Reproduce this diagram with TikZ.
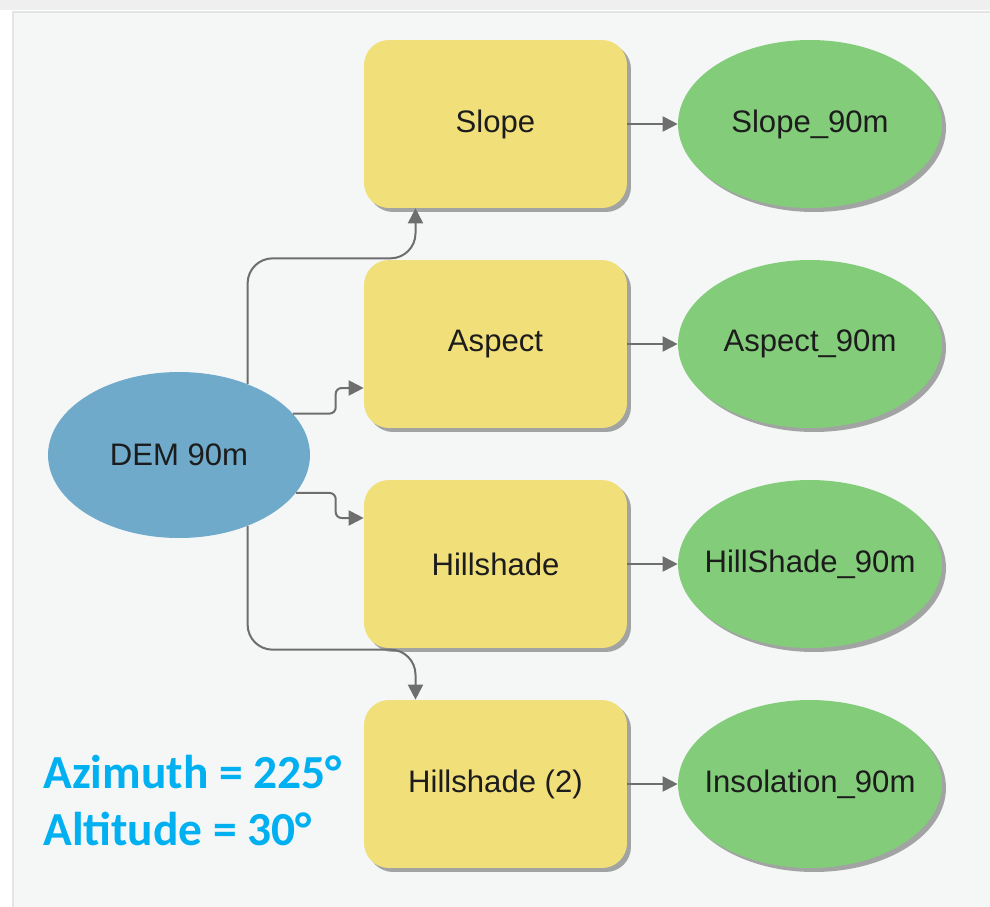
\documentclass[tikz,border=0pt]{standalone}
\usepackage{fontspec}
\setmainfont{Liberation Sans}
\newfontfamily\calfont{Carlito}
\usetikzlibrary{shapes.geometric,shadows,arrows.meta,calc}
\definecolor{panelbg}{HTML}{F5F7F7}
\definecolor{panelln}{HTML}{E3E4E4}
\definecolor{topstrip}{HTML}{EFEFEF}
\definecolor{toolyel}{HTML}{F1E07A}
\definecolor{outgrn}{HTML}{82CC7A}
\definecolor{inblue}{HTML}{6FAACB}
\definecolor{conngray}{HTML}{6E6E6E}
\definecolor{notecyan}{HTML}{00B0F0}
\definecolor{txt}{HTML}{1C1C1C}
\tikzset{
  lbl/.style={font=\fontsize{17.7}{20}\selectfont, text=txt},
  toolbox/.style={lbl, rectangle, rounded corners=0.5cm, fill=toolyel,
    minimum width=5.26cm, minimum height=3.36cm, inner sep=0pt,
    drop shadow={shadow xshift=0.08cm, shadow yshift=-0.08cm, fill=black!50, opacity=0.7}},
  outell/.style={lbl, ellipse, fill=outgrn, minimum width=5.28cm, minimum height=3.36cm,
    inner xsep=-1.2cm, inner ysep=0pt,
    drop shadow={shadow xshift=0.08cm, shadow yshift=-0.08cm, fill=black!50, opacity=0.7}},
  inell/.style={lbl, ellipse, fill=inblue, minimum width=5.24cm, minimum height=3.32cm,
    inner xsep=-0.5cm, inner ysep=0pt},
  conn/.style={draw=conngray, line width=0.04cm, -{Triangle[length=0.3cm, width=0.3cm]}},
  note/.style={font=\calfont\bfseries\fontsize{27}{32}\selectfont, text=notecyan, anchor=base west, inner sep=0pt}
}
\begin{document}
\begin{tikzpicture}[x=0.02cm, y=0.02cm]
\useasboundingbox (0,0) rectangle (990,-906);
\fill[white] (0,0) rectangle (990,-906);
\fill[topstrip] (0,0) rectangle (990,-10);
\filldraw[fill=panelbg, draw=panelln, line width=0.06cm] (13,-12) rectangle (1005,-925);

% tools
\node[toolbox] (slope) at (495.5,-124) {Slope};
\node[toolbox] (aspect) at (495.5,-344) {Aspect};
\node[toolbox] (hill) at (495.5,-564) {Hillshade};
\node[toolbox] (hill2) at (495.5,-784) {Hillshade (2)};

% outputs
\node[outell] (slopeout) at (810,-124) {Slope\_90m};
\node[outell] (aspectout) at (810,-344) {Aspect\_90m};
\node[outell] (hillout) at (810,-564) {HillShade\_90m};
\node[outell] (insout) at (810,-784) {Insolation\_90m};

% input
\node[inell] (dem) at (179,-455) {DEM 90m};

% connectors
\draw[conn, rounded corners=0.5cm] (dem.46) |- ($(slope.south)+(-80,-50)$) -- ($(slope.south)+(-80,0)$);
\draw[conn, rounded corners=0.12cm] (dem.20) -| ($(aspect.west)+(-28,-44)$) -- ($(aspect.west)+(0,-44)$);
\draw[conn, rounded corners=0.12cm] (dem.-18) -| ($(hill.west)+(-28,46)$) -- ($(hill.west)+(0,46)$);
\draw[conn, rounded corners=0.5cm] (dem.-46) |- ($(hill2.north)+(-80,50)$) -- ($(hill2.north)+(-80,0)$);

\draw[conn] (slope.east) -- (slopeout.west);
\draw[conn] (aspect.east) -- (aspectout.west);
\draw[conn] (hill.east) -- (hillout.west);
\draw[conn] (hill2.east) -- (insout.west);

% note
\node[note] (az) at (43,-788) {Azimuth = 225°};
\node[note] (alt) at (43,-845) {Altitude = 30°};
\end{tikzpicture}
\end{document}
